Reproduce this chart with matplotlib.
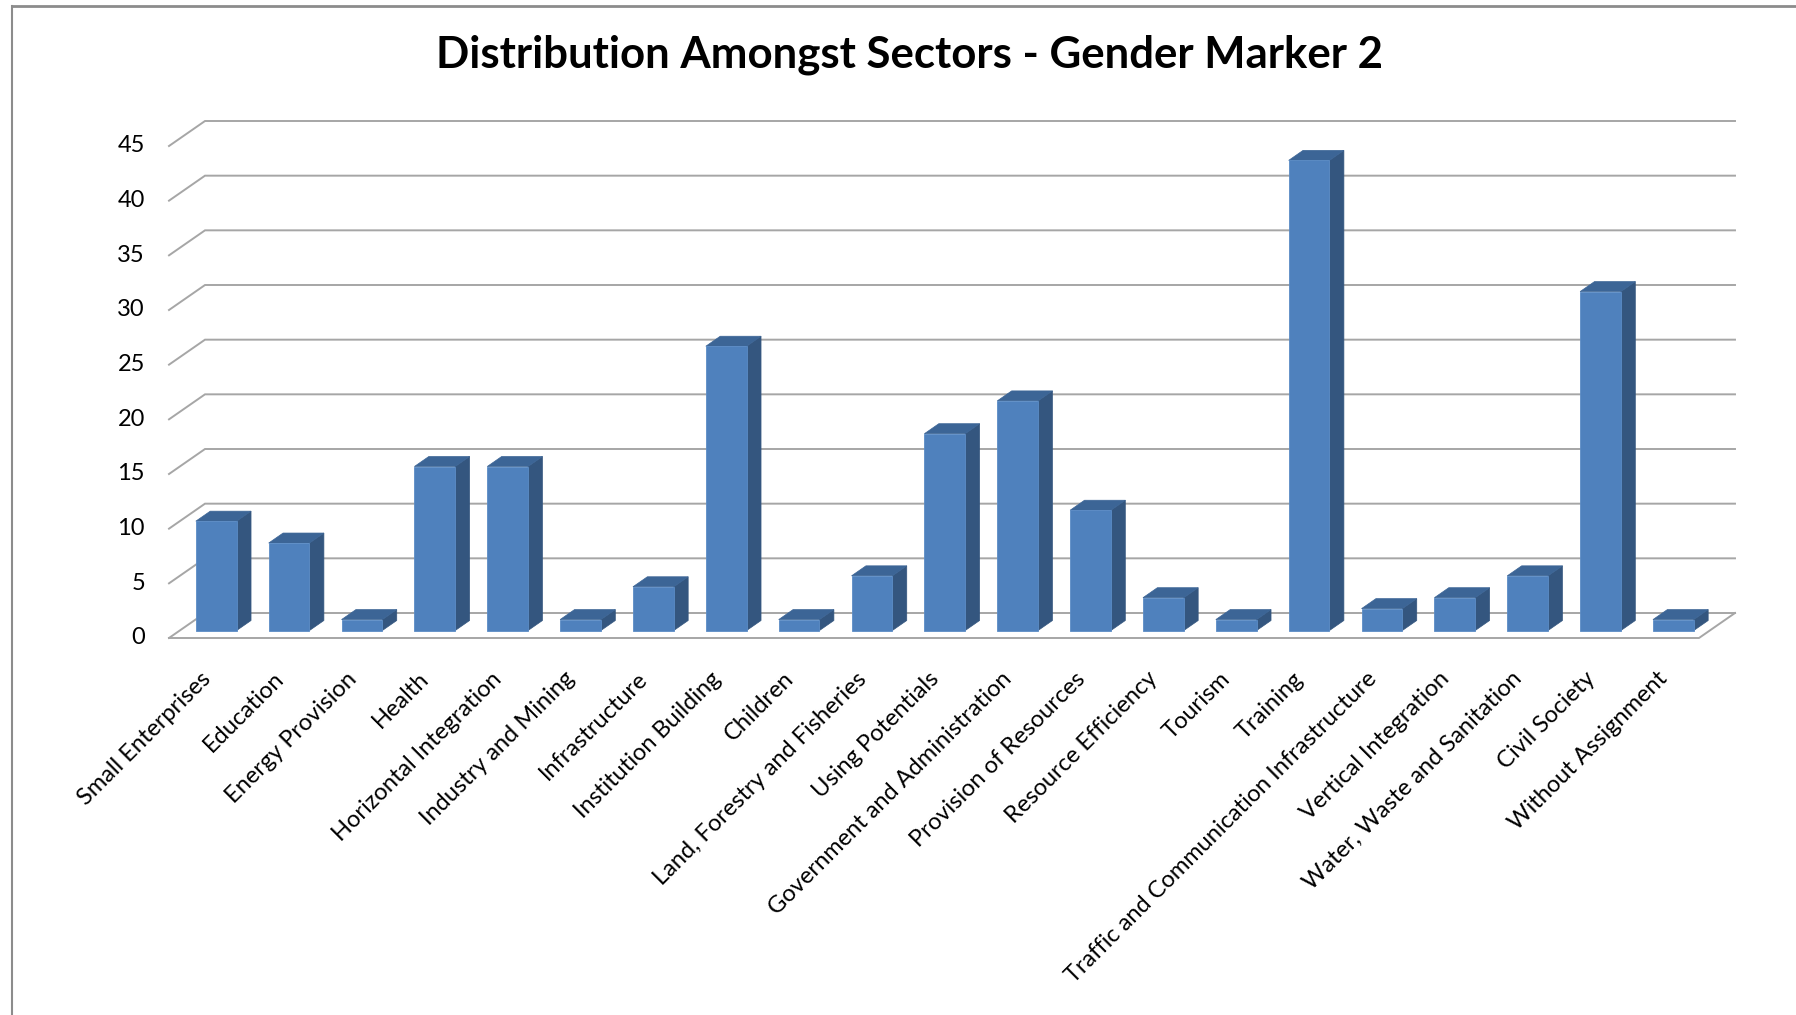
import matplotlib
matplotlib.use("Agg")
import matplotlib.pyplot as plt
from matplotlib.patches import Polygon
from matplotlib.lines import Line2D

# ---------- data ----------
sectors = ["Small Enterprises", "Education", "Energy Provision", "Health",
           "Horizontal Integration", "Industry and Mining", "Infrastructure",
           "Institution Building", "Children", "Land, Forestry and Fisheries",
           "Using Potentials", "Government and Administration",
           "Provision of Resources", "Resource Efficiency", "Tourism", "Training",
           "Traffic and Communication Infrastructure", "Vertical Integration",
           "Water, Waste and Sanitation", "Civil Society", "Without Assignment"]
counts = [10, 8, 1, 15, 15, 1, 4, 26, 1, 5, 18, 21, 11, 3, 1, 43, 2, 3, 5, 31, 1]
yticks = [0, 5, 10, 15, 20, 25, 30, 35, 40, 45]

FRONT = "#4f81bd"
SIDE = "#34567f"
TOP = "#3c6596"
GRID = "#a6a6a6"

plt.rcParams['font.family'] = ['Lato', 'DejaVu Sans']

W, H, DPI = 1796, 1015, 100
fig = plt.figure(figsize=(W / DPI, H / DPI), dpi=DPI)

# back wall of the fake 3D plot (pixels from top-left)
wall_l, wall_r, wall_top, wall_bot = 205, 1735, 121, 613
ax = fig.add_axes([wall_l / W, 1 - wall_bot / H,
                   (wall_r - wall_l) / W, (wall_bot - wall_top) / H])
ax.set_xlim(-0.5, len(counts) - 0.5)
ax.set_ylim(0, 45)
ax.axis("off")


def px2data(dx, dy):
    inv = ax.transData.inverted()
    x0, y0 = inv.transform((0, 0))
    x1, y1 = inv.transform((dx, dy))
    return x1 - x0, y1 - y0


fdx, fdy = px2data(-36, -25)          # floor depth (back wall -> front edge)
ffx, ffy = 0.7 * fdx, 0.7 * fdy       # bar front plane
bfx, bfy = 0.3 * fdx, 0.3 * fdy       # bar back plane
xmin, xmax = ax.get_xlim()
lab_x, _ = px2data(-24, 0)
xlab_dx, xlab_dy = px2data(-9, -45)

# gridlines + y labels
for v in yticks:
    ax.plot([xmin + fdx, xmin, xmax], [v + fdy, v, v], color=GRID, lw=1.4,
            clip_on=False, zorder=1, solid_joinstyle="miter")
    ax.text(xmin + fdx + lab_x, v + fdy, str(v), ha="right", va="center",
            fontsize=17, color="black")

# floor outline
ax.plot([xmin + fdx, xmax + fdx, xmax], [fdy, fdy, 0], color=GRID, lw=1.4,
        clip_on=False, zorder=1)

# bars
w = 0.56
xs = list(range(len(counts)))
ax.bar([x + ffx for x in xs], counts, width=w, bottom=ffy, color=FRONT,
       edgecolor="#5b8cc6", linewidth=0.6, clip_on=False, zorder=4)
for x, v in zip(xs, counts):
    r = x + w / 2
    l = x - w / 2
    side = Polygon([(r + ffx, ffy), (r + ffx, v + ffy), (r + bfx, v + bfy), (r + bfx, bfy)],
                   closed=True, facecolor=SIDE, edgecolor=SIDE, lw=0.5,
                   clip_on=False, zorder=3)
    top = Polygon([(l + ffx, v + ffy), (r + ffx, v + ffy), (r + bfx, v + bfy), (l + bfx, v + bfy)],
                  closed=True, facecolor=TOP, edgecolor=TOP, lw=0.5,
                  clip_on=False, zorder=3)
    ax.add_patch(side)
    ax.add_patch(top)
    ax.text(x + ffx + xlab_dx, ffy + xlab_dy, sectors[x], rotation=45,
            rotation_mode="anchor", ha="right", va="center", fontsize=17,
            color="black")

# title
fig.text(910 / W, 1 - 55 / H, "Distribution Amongst Sectors - Gender Marker 2",
         ha="center", va="center", fontsize=31.5, fontweight="bold")

# chart area border (only left and top edges visible)
fig.add_artist(Line2D([11.5 / W, 11.5 / W], [0, 1 - 6 / H], transform=fig.transFigure,
                      color="#8c8c8c", lw=1.5))
fig.add_artist(Line2D([11.5 / W, 1], [1 - 6 / H, 1 - 6 / H], transform=fig.transFigure,
                      color="#8c8c8c", lw=2))

fig.savefig("out.png", dpi=DPI)
